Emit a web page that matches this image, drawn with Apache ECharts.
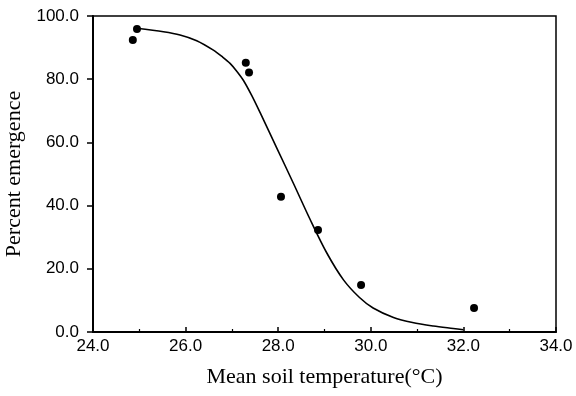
<!DOCTYPE html>
<html>
<head>
<meta charset="utf-8">
<script src="https://cdn.jsdelivr.net/npm/echarts@6/dist/echarts.min.js"></script>
<style>
  html, body { margin: 0; padding: 0; background: #fff; }
  #chart { width: 576px; height: 396px; }
</style>
</head>
<body>
<div id="chart"></div>
<script>
// observed emergence (x = mean soil temperature, y = percent)
var obsTemp = [24.86, 24.95, 27.30, 27.37, 28.06, 28.86, 29.79, 32.23];
var obsEmerg = [92.4, 95.9, 85.2, 82.1, 42.8, 32.3, 14.9, 7.6];

// fitted curve
var fitTemp = [24.94, 25.52, 25.88, 26.24, 26.60, 26.80, 26.96, 27.10, 27.25, 27.43, 27.61, 27.97, 28.33, 28.69, 29.05, 29.41, 29.75, 30.05, 30.49, 30.9, 31.35, 31.78, 32.0];
var fitEmerg = [96.1, 95.0, 94.0, 92.2, 89.2, 87.0, 85.0, 82.6, 79.6, 74.8, 69.4, 58.2, 47.0, 35.6, 25.0, 16.5, 11.0, 7.6, 4.6, 3.0, 1.9, 1.1, 0.7];

var xTicks = [24, 26, 28, 30, 32, 34];
var yTicks = [0, 20, 40, 60, 80, 100];

function pairs(a, b) {
    var out = [];
    for (var i = 0; i < a.length; i++) out.push([a[i], b[i]]);
    return out;
}

var chart = echarts.init(document.getElementById('chart'));

var labelFont = { color: '#000', fontFamily: 'Liberation Sans', fontSize: 17 };

var option = {
    animation: false,
    grid: {
        left: 93, right: 20, top: 16, bottom: 64,
        outerBoundsMode: 'none',
        show: true, borderColor: '#000', borderWidth: 1.5
    },
    xAxis: {
        type: 'value',
        min: xTicks[0], max: xTicks[xTicks.length - 1], interval: 2,
        name: 'Mean soil temperature(\u00B0C)',
        nameLocation: 'middle', nameGap: 34,
        nameTextStyle: { color: '#000', fontFamily: 'Liberation Serif', fontSize: 22 },
        axisLine: { lineStyle: { color: '#000', width: 2 } },
        axisTick: { inside: true, length: 5, lineStyle: { color: '#000', width: 1.5 } },
        minorTick: { show: true, splitNumber: 2, length: 3, lineStyle: { color: '#000', width: 1.2 } },
        splitLine: { show: false },
        axisLabel: Object.assign({ margin: 6, formatter: function (v) { return v.toFixed(1); } }, labelFont)
    },
    yAxis: {
        type: 'value',
        min: yTicks[0], max: yTicks[yTicks.length - 1], interval: 20,
        name: 'Percent emergence',
        nameLocation: 'middle', nameGap: 63,
        nameTextStyle: { color: '#000', fontFamily: 'Liberation Serif', fontSize: 22 },
        axisLine: { lineStyle: { color: '#000', width: 2 } },
        axisTick: { length: 6, lineStyle: { color: '#000', width: 1.5 } },
        splitLine: { show: false },
        axisLabel: Object.assign({ margin: 14, formatter: function (v) { return v.toFixed(1); } }, labelFont)
    },
    series: [
        {
            type: 'line',
            data: pairs(fitTemp, fitEmerg),
            smooth: 0.3,
            showSymbol: false,
            lineStyle: { color: '#000', width: 1.6 },
            z: 2
        },
        {
            type: 'scatter',
            data: pairs(obsTemp, obsEmerg),
            symbol: 'circle',
            symbolSize: 8,
            itemStyle: { color: '#000', opacity: 1 },
            z: 3
        }
    ]
};
chart.setOption(option);
</script>
</body>
</html>
